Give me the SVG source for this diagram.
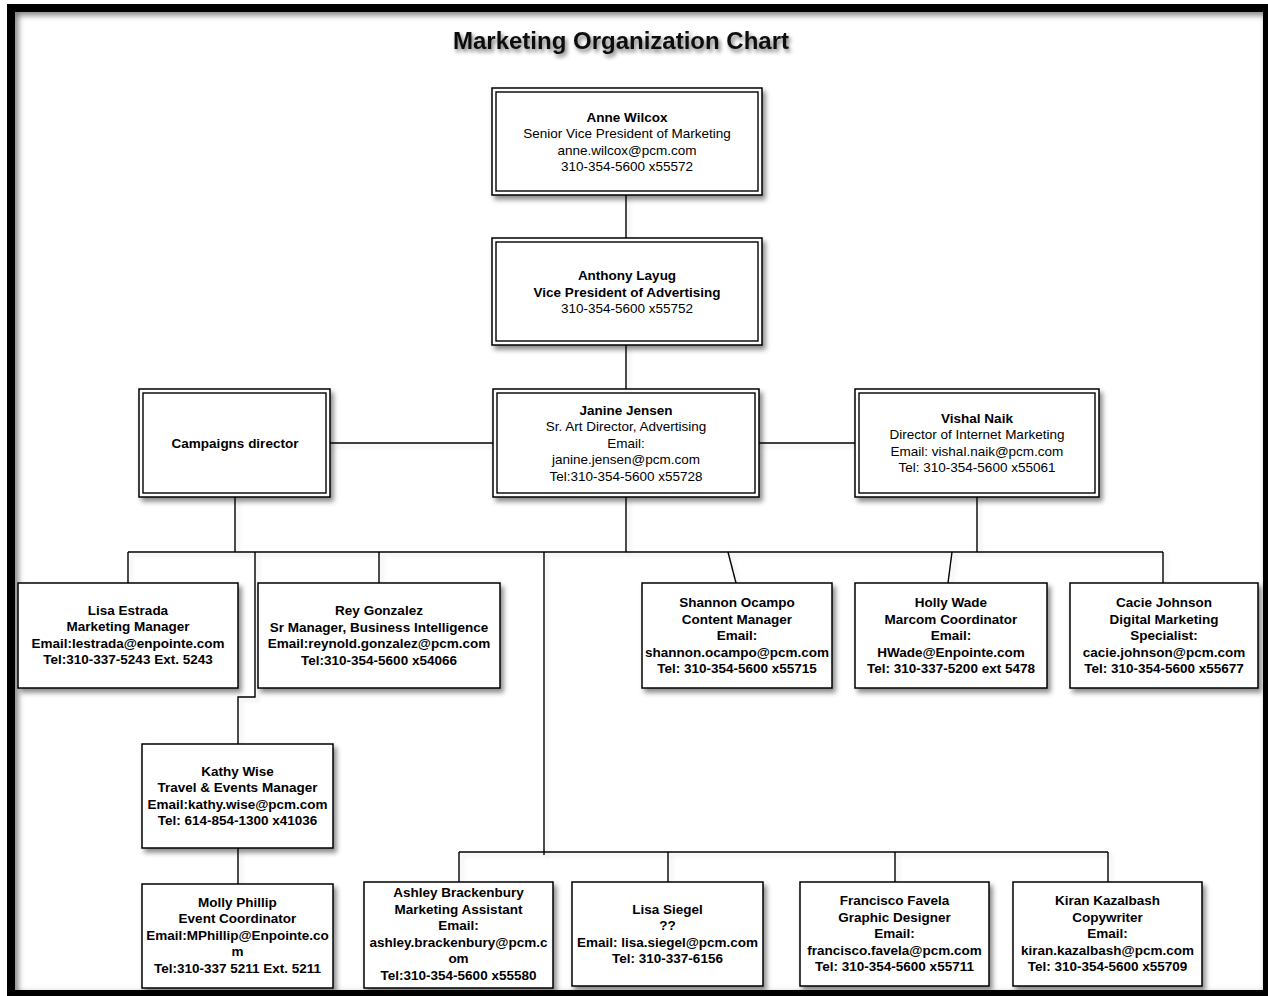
<svg xmlns="http://www.w3.org/2000/svg" width="1268" height="996" viewBox="0 0 1268 996">
<defs>
<style>
.t{font-family:"Liberation Sans",Arial,sans-serif;font-size:13.5px;fill:#000;text-anchor:middle}
.b{font-weight:bold}
.box{fill:#fff;stroke:#000;stroke-width:1.5}
.inner{fill:none;stroke:#000;stroke-width:1.4}
.conn{fill:none;stroke:#000;stroke-width:1.4}
</style>
<filter id="sh" x="-10%" y="-10%" width="130%" height="140%">
<feDropShadow dx="3" dy="4" stdDeviation="2.5" flood-color="#000" flood-opacity="0.45"/>
</filter>
<filter id="csh" x="-5%" y="-5%" width="110%" height="110%">
<feDropShadow dx="3" dy="3" stdDeviation="2" flood-color="#000" flood-opacity="0.12"/>
</filter>
<filter id="tsh" x="-10%" y="-30%" width="120%" height="180%">
<feDropShadow dx="2" dy="3" stdDeviation="2" flood-color="#000" flood-opacity="0.55"/>
</filter>
<filter id="blur"><feGaussianBlur stdDeviation="3"/></filter>
<clipPath id="innerclip"><rect x="15" y="12" width="1248" height="978"/></clipPath>
</defs>
<rect width="1268" height="996" fill="#fff"/>
<g id="frame">
<g clip-path="url(#innerclip)">
<rect x="14" y="11" width="1256" height="986" fill="none" stroke="#777" stroke-width="8" filter="url(#blur)"/>
</g>
<rect x="11" y="8" width="1256" height="986" fill="none" stroke="#000" stroke-width="8"/>
</g>
<g id="title">
<text x="621" y="49" style="font-family:'Liberation Sans',Arial,sans-serif;font-size:24px;font-weight:bold;fill:#111;text-anchor:middle" filter="url(#tsh)">Marketing Organization Chart</text>
</g>
<g id="connectors" filter="url(#csh)">
<path class="conn" d="M626 195V238"/>
<path class="conn" d="M626 345V389"/>
<path class="conn" d="M330 443H493"/>
<path class="conn" d="M759 443H855"/>
<path class="conn" d="M235 497V552"/>
<path class="conn" d="M626 497V552"/>
<path class="conn" d="M977 497V552"/>
<path class="conn" d="M128 552H1163"/>
<path class="conn" d="M128 552V583"/>
<path class="conn" d="M379 552V583"/>
<path class="conn" d="M728 552L736 583"/>
<path class="conn" d="M952 552L948 583"/>
<path class="conn" d="M1163 552V583"/>
<path class="conn" d="M255 552V697H238V744"/>
<path class="conn" d="M238 848V884"/>
<path class="conn" d="M544 552V855"/>
<path class="conn" d="M459 852H1108"/>
<path class="conn" d="M459 852V882"/>
<path class="conn" d="M668 852V882"/>
<path class="conn" d="M895 852V882"/>
<path class="conn" d="M1108 852V882"/>
</g>
<g id="anne">
<rect class="box" x="492" y="88" width="270" height="107" filter="url(#sh)"/>
<rect class="inner" x="496" y="92" width="262" height="99"/>
<text class="t b" x="627" y="122">Anne Wilcox</text>
<text class="t" x="627" y="138">Senior Vice President of Marketing</text>
<text class="t" x="627" y="155">anne.wilcox@pcm.com</text>
<text class="t" x="627" y="171">310-354-5600 x55572</text>
</g>
<g id="anthony">
<rect class="box" x="492" y="238" width="270" height="107" filter="url(#sh)"/>
<rect class="inner" x="496" y="242" width="262" height="99"/>
<text class="t b" x="627" y="280">Anthony Layug</text>
<text class="t b" x="627" y="297">Vice President of Advertising</text>
<text class="t" x="627" y="313">310-354-5600 x55752</text>
</g>
<g id="campaigns">
<rect class="box" x="139" y="389" width="191" height="108" filter="url(#sh)"/>
<rect class="inner" x="143" y="393" width="183" height="100"/>
<text class="t b" x="235" y="448">Campaigns director</text>
</g>
<g id="janine">
<rect class="box" x="493" y="389" width="266" height="108" filter="url(#sh)"/>
<rect class="inner" x="497" y="393" width="258" height="100"/>
<text class="t b" x="626" y="415">Janine Jensen</text>
<text class="t" x="626" y="431">Sr. Art Director, Advertising</text>
<text class="t" x="626" y="448">Email:</text>
<text class="t" x="626" y="464">janine.jensen@pcm.com</text>
<text class="t" x="626" y="481">Tel:310-354-5600 x55728</text>
</g>
<g id="vishal">
<rect class="box" x="855" y="389" width="244" height="108" filter="url(#sh)"/>
<rect class="inner" x="859" y="393" width="236" height="100"/>
<text class="t b" x="977" y="423">Vishal Naik</text>
<text class="t" x="977" y="439">Director of Internet Marketing</text>
<text class="t" x="977" y="456">Email: vishal.naik@pcm.com</text>
<text class="t" x="977" y="472">Tel: 310-354-5600 x55061</text>
</g>
<g id="lisa-estrada">
<rect class="box" x="18" y="583" width="220" height="105" filter="url(#sh)"/>
<text class="t b" x="128" y="615">Lisa Estrada</text>
<text class="t b" x="128" y="631">Marketing Manager</text>
<text class="t b" x="128" y="648">Email:lestrada@enpointe.com</text>
<text class="t b" x="128" y="664">Tel:310-337-5243 Ext. 5243</text>
</g>
<g id="rey">
<rect class="box" x="258" y="583" width="242" height="105" filter="url(#sh)"/>
<text class="t b" x="379" y="615">Rey Gonzalez</text>
<text class="t b" x="379" y="632">Sr Manager, Business Intelligence</text>
<text class="t b" x="379" y="648">Email:reynold.gonzalez@pcm.com</text>
<text class="t b" x="379" y="665">Tel:310-354-5600 x54066</text>
</g>
<g id="shannon">
<rect class="box" x="642" y="583" width="190" height="105" filter="url(#sh)"/>
<text class="t b" x="737" y="607">Shannon Ocampo</text>
<text class="t b" x="737" y="624">Content Manager</text>
<text class="t b" x="737" y="640">Email:</text>
<text class="t b" x="737" y="657">shannon.ocampo@pcm.com</text>
<text class="t b" x="737" y="673">Tel: 310-354-5600 x55715</text>
</g>
<g id="holly">
<rect class="box" x="855" y="583" width="192" height="105" filter="url(#sh)"/>
<text class="t b" x="951" y="607">Holly Wade</text>
<text class="t b" x="951" y="624">Marcom Coordinator</text>
<text class="t b" x="951" y="640">Email:</text>
<text class="t b" x="951" y="657">HWade@Enpointe.com</text>
<text class="t b" x="951" y="673">Tel: 310-337-5200 ext 5478</text>
</g>
<g id="cacie">
<rect class="box" x="1070" y="583" width="188" height="105" filter="url(#sh)"/>
<text class="t b" x="1164" y="607">Cacie Johnson</text>
<text class="t b" x="1164" y="624">Digital Marketing</text>
<text class="t b" x="1164" y="640">Specialist:</text>
<text class="t b" x="1164" y="657">cacie.johnson@pcm.com</text>
<text class="t b" x="1164" y="673">Tel: 310-354-5600 x55677</text>
</g>
<g id="kathy">
<rect class="box" x="142" y="744" width="191" height="104" filter="url(#sh)"/>
<text class="t b" x="237.5" y="776">Kathy Wise</text>
<text class="t b" x="237.5" y="792">Travel &amp; Events Manager</text>
<text class="t b" x="237.5" y="809">Email:kathy.wise@pcm.com</text>
<text class="t b" x="237.5" y="825">Tel: 614-854-1300 x41036</text>
</g>
<g id="molly">
<rect class="box" x="142" y="884" width="191" height="104" filter="url(#sh)"/>
<text class="t b" x="237.5" y="907">Molly Phillip</text>
<text class="t b" x="237.5" y="923">Event Coordinator</text>
<text class="t b" x="237.5" y="940">Email:MPhillip@Enpointe.co</text>
<text class="t b" x="237.5" y="956">m</text>
<text class="t b" x="237.5" y="973">Tel:310-337 5211 Ext. 5211</text>
</g>
<g id="ashley">
<rect class="box" x="364" y="882" width="189" height="106" filter="url(#sh)"/>
<text class="t b" x="458.5" y="897">Ashley Brackenbury</text>
<text class="t b" x="458.5" y="914">Marketing Assistant</text>
<text class="t b" x="458.5" y="930">Email:</text>
<text class="t b" x="458.5" y="947">ashley.brackenbury@pcm.c</text>
<text class="t b" x="458.5" y="963">om</text>
<text class="t b" x="458.5" y="980">Tel:310-354-5600 x55580</text>
</g>
<g id="lisa-siegel">
<rect class="box" x="572" y="882" width="191" height="104" filter="url(#sh)"/>
<text class="t b" x="667.5" y="914">Lisa Siegel</text>
<text class="t b" x="667.5" y="930">??</text>
<text class="t b" x="667.5" y="947">Email: lisa.siegel@pcm.com</text>
<text class="t b" x="667.5" y="963">Tel: 310-337-6156</text>
</g>
<g id="francisco">
<rect class="box" x="800" y="882" width="189" height="104" filter="url(#sh)"/>
<text class="t b" x="894.5" y="905">Francisco Favela</text>
<text class="t b" x="894.5" y="922">Graphic Designer</text>
<text class="t b" x="894.5" y="938">Email:</text>
<text class="t b" x="894.5" y="955">francisco.favela@pcm.com</text>
<text class="t b" x="894.5" y="971">Tel: 310-354-5600 x55711</text>
</g>
<g id="kiran">
<rect class="box" x="1013" y="882" width="189" height="104" filter="url(#sh)"/>
<text class="t b" x="1107.5" y="905">Kiran Kazalbash</text>
<text class="t b" x="1107.5" y="922">Copywriter</text>
<text class="t b" x="1107.5" y="938">Email:</text>
<text class="t b" x="1107.5" y="955">kiran.kazalbash@pcm.com</text>
<text class="t b" x="1107.5" y="971">Tel: 310-354-5600 x55709</text>
</g>
</svg>
